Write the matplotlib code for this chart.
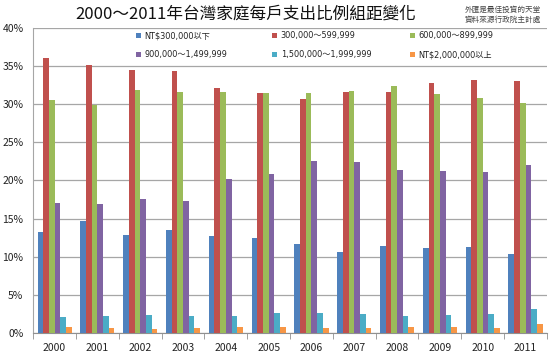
import numpy as np
import matplotlib
matplotlib.use('Agg')
import matplotlib.pyplot as plt
from matplotlib.legend import Legend
from matplotlib.ticker import FixedLocator, FuncFormatter

plt.rcParams['font.family'] = ['Noto Sans CJK TC', 'DejaVu Sans']

years = ['2000', '2001', '2002', '2003', '2004', '2005',
         '2006', '2007', '2008', '2009', '2010', '2011']

labels = ['NT$300,000以下', '300,000～599,999', '600,000～899,999',
          '900,000～1,499,999', '1,500,000～1,999,999', 'NT$2,000,000以上']

under_300k = [13.3, 14.7, 12.9, 13.5, 12.7, 12.4, 11.7, 10.6, 11.4, 11.1, 11.3, 10.3]
r300_600k = [36.0, 35.1, 34.5, 34.3, 32.1, 31.4, 30.7, 31.6, 31.6, 32.8, 33.1, 33.0]
r600_900k = [30.5, 29.9, 31.9, 31.6, 31.6, 31.5, 31.4, 31.7, 32.3, 31.3, 30.8, 30.1]
r900k_1500k = [17.0, 16.9, 17.6, 17.3, 20.2, 20.9, 22.5, 22.4, 21.4, 21.2, 21.1, 22.0]
r1500k_2000k = [2.1, 2.3, 2.4, 2.3, 2.2, 2.6, 2.6, 2.5, 2.2, 2.4, 2.5, 3.1]
over_2000k = [0.8, 0.7, 0.6, 0.7, 0.8, 0.8, 0.7, 0.7, 0.8, 0.8, 0.7, 1.2]

series = [under_300k, r300_600k, r600_900k, r900k_1500k, r1500k_2000k, over_2000k]
colors = ['#4F81BD', '#C0504D', '#9BBB59', '#8064A2', '#4BACC6', '#F79646']

fig = plt.figure(figsize=(5.53, 3.59), dpi=100)
ax = fig.add_axes([0.06, 0.072, 0.929, 0.851])

x = np.arange(len(years))
w = 0.133
bars = []
for i, (vals, c) in enumerate(zip(series, colors)):
    bars.append(ax.bar(x + (i - 2.5) * w, vals, width=w, color=c,
                       label=labels[i], zorder=3))

ax.set_xlim(-0.5, len(years) - 0.5)
ax.set_ylim(0, 40)
ax.set_yticks(np.arange(0, 41, 5))
ax.yaxis.set_major_formatter(FuncFormatter(lambda v, p: '%d%%' % v))
ax.set_xticks(x)
ax.set_xticklabels(years)
ax.xaxis.set_minor_locator(FixedLocator(np.arange(-0.5, len(years), 1.0)))
ax.tick_params(axis='x', which='major', length=0, labelsize=7.5, pad=7, colors='#222222')
ax.tick_params(axis='x', which='minor', length=4, color='#909090', direction='out')
ax.tick_params(axis='y', length=0, labelsize=7.5, pad=7, colors='#222222')

ax.grid(axis='y', color='#A6A6A6', linewidth=0.9, zorder=0)
for s in ['top', 'right']:
    ax.spines[s].set_visible(False)
ax.spines['left'].set_color('#A6A6A6')
ax.spines['bottom'].set_color('#909090')

# three one-column legends so the columns sit where the original has them
leg_font = {'family': ['DejaVu Sans', 'Noto Sans CJK TC'], 'size': 5.9}
col_x = [0.200, 0.465, 0.733]
for j, cx in enumerate(col_x):
    pair = [j, j + 3]
    leg = Legend(ax, [bars[k] for k in pair], [labels[k] for k in pair],
                 loc='upper left', bbox_to_anchor=(cx, 0.988),
                 frameon=False, prop=leg_font,
                 handlelength=0.6, handleheight=0.6, handletextpad=0.45,
                 labelspacing=1.2, borderpad=0, borderaxespad=0)
    for t in leg.get_texts():
        t.set_color('#222222')
    ax.add_artist(leg)

fig.text(0.444, 0.962, '2000～2011年台灣家庭每戶支出比例組距變化',
         ha='center', va='center', fontsize=12, color='#111111')
fig.text(0.841, 0.972, '外匯是最佳投資的天堂', ha='left', va='center',
         fontsize=5.5, color='#444444')
fig.text(0.841, 0.944, '資料來源行政院主計處', ha='left', va='center',
         fontsize=5.5, color='#444444')

fig.savefig('out.png', dpi=100)
